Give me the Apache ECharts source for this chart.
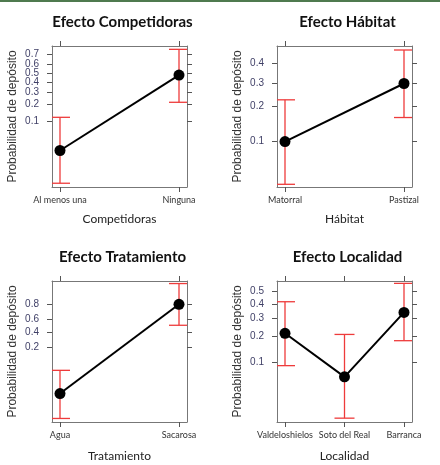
<!DOCTYPE html>
<html>
<head>
<meta charset="utf-8">
<script src="https://cdn.jsdelivr.net/npm/echarts@6/dist/echarts.min.js"></script>
<style>
  html, body { margin: 0; padding: 0; background: #fff; }
  #chart { width: 440px; height: 465px; position: relative; }
  #topline { position: absolute; left: 0; top: 0; width: 440px; height: 2px; background: #4f7a4f; z-index: 5; }
</style>
</head>
<body>
<div id="topline"></div>
<div id="chart"></div>
<script>
// ---- data (probabilities) ----
const compCategories = ['Al menos una', 'Ninguna'];
const compFit   = [0.029, 0.48];
const compLower = [0.0067, 0.211];
const compUpper = [0.119, 0.748];
const compTicks = [0.1, 0.2, 0.3, 0.4, 0.5, 0.6, 0.7];

const habCategories = ['Matorral', 'Pastizal'];
const habFit   = [0.10, 0.297];
const habLower = [0.040, 0.162];
const habUpper = [0.225, 0.477];
const habTicks = [0.1, 0.2, 0.3, 0.4];

const traCategories = ['Agua', 'Sacarosa'];
const traFit   = [0.012, 0.80];
const traLower = [0.0024, 0.506];
const traUpper = [0.052, 0.939];
const traTicks = [0.2, 0.4, 0.6, 0.8];

const locCategories = ['Valdeloshielos', 'Soto del Real', 'Barranca'];
const locFit   = [0.215, 0.067, 0.342];
const locLower = [0.092, 0.0198, 0.179];
const locUpper = [0.419, 0.209, 0.559];
const locTicks = [0.1, 0.2, 0.3, 0.4, 0.5];

const titles = ['Efecto Competidoras', 'Efecto Hábitat', 'Efecto Tratamiento', 'Efecto Localidad'];
const xNames = ['Competidoras', 'Hábitat', 'Tratamiento', 'Localidad'];
const yName = 'Probabilidad de depósito';

// ---- helpers ----
const logit = p => Math.log(p / (1 - p));
const invlogit = v => 1 / (1 + Math.exp(-v));

const panels = [
  { cats: compCategories, fit: compFit, lo: compLower, hi: compUpper, ticks: compTicks,
    left: 52, top: 46, yMin: -5.17, yMax: 1.24, nameGapX: 26 },
  { cats: habCategories, fit: habFit, lo: habLower, hi: habUpper, ticks: habTicks,
    left: 277, top: 46, yMin: -3.24, yMax: 0.0, nameGapX: 26 },
  { cats: traCategories, fit: traFit, lo: traLower, hi: traUpper, ticks: traTicks,
    left: 52, top: 281, yMin: -6.26, yMax: 2.90, nameGapX: 28 },
  { cats: locCategories, fit: locFit, lo: locLower, hi: locUpper, ticks: locTicks,
    left: 277, top: 281, yMin: -4.02, yMax: 0.31, nameGapX: 28 }
];
const W = 135, H = 141, PAD = 8;

const grid = [], xAxis = [], yAxis = [], series = [], title = [];
const tickStyle = { show: true, inside: false, length: 5, lineStyle: { color: '#555', width: 1 } };
const lineStyle = { show: true, onZero: false, lineStyle: { color: '#777', width: 1 } };
const sansFont = 'Liberation Sans, Arial, sans-serif';
const yLabelStyle = { margin: 13, fontFamily: sansFont, fontSize: 10, color: '#3f3f66',
  showMinLabel: true, showMaxLabel: true, hideOverlap: false,
  formatter: v => invlogit(v).toFixed(1) };

panels.forEach((pn, i) => {
  const n = pn.cats.length;
  const unit = (W - 2 * PAD) / (n - 1);
  const xMin = -PAD / unit, xMax = (n - 1) + PAD / unit;
  const idx = pn.cats.map((c, k) => k);
  const yTicks = pn.ticks.map(logit);
  const yEven = yTicks.filter((v, k) => k % 2 === 0);
  const yOdd = yTicks.filter((v, k) => k % 2 === 1);

  grid.push({ left: pn.left, top: pn.top, width: W, height: H, show: false, containLabel: false });

  title.push({ text: titles[i], left: pn.left + W / 2 - 2, top: pn.top - 36, textAlign: 'center',
    textStyle: { fontFamily: 'Lato', fontWeight: 'bold', fontSize: 15, color: '#111' } });

  // bottom x
  xAxis.push({ type: 'value', gridIndex: i, position: 'bottom', min: xMin, max: xMax,
    axisLine: lineStyle, splitLine: { show: false },
    axisTick: Object.assign({ customValues: idx }, tickStyle),
    axisLabel: { customValues: idx, margin: 9, fontFamily: 'Lato', fontSize: 9, color: '#333',
      showMinLabel: true, showMaxLabel: true, hideOverlap: false,
      formatter: v => pn.cats[Math.round(v)] },
    name: xNames[i], nameLocation: 'middle', nameGap: pn.nameGapX,
    nameTextStyle: { fontFamily: 'Lato', fontSize: 12, color: '#222' } });
  // top x (ticks only)
  xAxis.push({ type: 'value', gridIndex: i, position: 'top', min: xMin, max: xMax,
    axisLine: lineStyle, splitLine: { show: false },
    axisTick: Object.assign({ customValues: idx }, tickStyle),
    axisLabel: { show: false } });
  // left y: line, all ticks, labels for every other tick
  yAxis.push({ type: 'value', gridIndex: i, position: 'left', min: pn.yMin, max: pn.yMax,
    axisLine: lineStyle, splitLine: { show: false },
    axisTick: Object.assign({ customValues: yTicks }, tickStyle),
    axisLabel: Object.assign({ customValues: yEven }, yLabelStyle),
    name: yName, nameLocation: 'middle', nameGap: 33, nameRotate: 90,
    nameTextStyle: { fontFamily: sansFont, fontSize: 12, color: '#333' } });
  // right y (ticks only)
  yAxis.push({ type: 'value', gridIndex: i, position: 'right', min: pn.yMin, max: pn.yMax,
    axisLine: lineStyle, splitLine: { show: false },
    axisTick: Object.assign({ customValues: yTicks }, tickStyle),
    axisLabel: { show: false } });
  // left y: remaining labels (same scale, no line/ticks)
  yAxis.push({ type: 'value', gridIndex: i, position: 'left', offset: 0, min: pn.yMin, max: pn.yMax,
    axisLine: { show: false, onZero: false }, splitLine: { show: false },
    axisTick: { show: false },
    axisLabel: Object.assign({ customValues: yOdd.length ? yOdd : [pn.yMin - 10] }, yLabelStyle) });

  // error bars
  series.push({
    type: 'custom', xAxisIndex: 2 * i, yAxisIndex: 3 * i, clip: true, z: 2, silent: true,
    data: idx.map(k => [k, logit(pn.lo[k]), logit(pn.hi[k])]),
    renderItem: (params, api) => {
      const x = api.value(0);
      const pLo = api.coord([x, api.value(1)]);
      const pHi = api.coord([x, api.value(2)]);
      const half = 10;
      const style = { stroke: '#ee3b3b', lineWidth: 1.3 };
      return { type: 'group', children: [
        { type: 'line', shape: { x1: pLo[0], y1: pLo[1], x2: pHi[0], y2: pHi[1] }, style },
        { type: 'line', shape: { x1: pLo[0] - half, y1: pLo[1], x2: pLo[0] + half, y2: pLo[1] }, style },
        { type: 'line', shape: { x1: pHi[0] - half, y1: pHi[1], x2: pHi[0] + half, y2: pHi[1] }, style }
      ]};
    }
  });
  // fitted line + points
  series.push({
    type: 'line', xAxisIndex: 2 * i, yAxisIndex: 3 * i, z: 3, silent: true,
    data: idx.map(k => [k, logit(pn.fit[k])]),
    symbol: 'circle', symbolSize: 11,
    lineStyle: { color: '#000', width: 2 },
    itemStyle: { color: '#000' }
  });
});

const chart = echarts.init(document.getElementById('chart'), null, { renderer: 'canvas' });
chart.setOption({ animation: false, backgroundColor: '#fff', title, grid, xAxis, yAxis, series });
</script>
</body>
</html>
